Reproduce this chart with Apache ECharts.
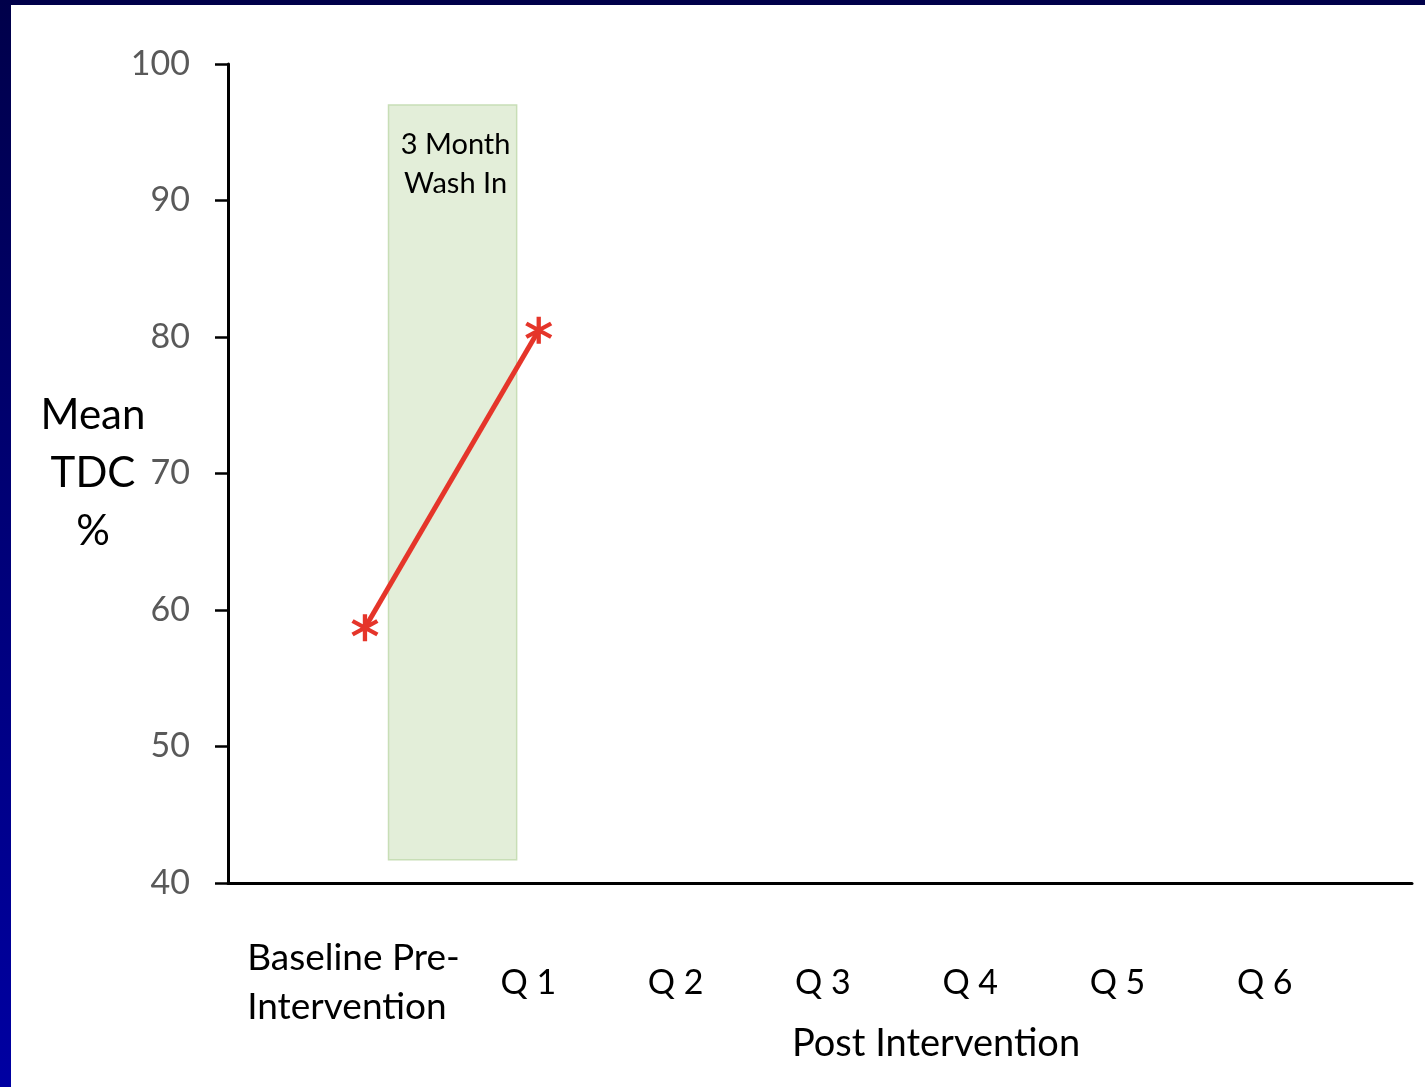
<!DOCTYPE html>
<html>
<head>
<meta charset="utf-8">
<script src="https://cdn.jsdelivr.net/npm/echarts@6/dist/echarts.min.js"></script>
<style>
  html, body { margin: 0; padding: 0; width: 1425px; height: 1087px; overflow: hidden; }
  body { background: linear-gradient(180deg, #00004a 0%, #000078 50%, #0000a2 100%); position: relative; }
  #chart { position: absolute; left: 11px; top: 5px; width: 1414px; height: 1082px; background: #fff; }
</style>
</head>
<body>
<div id="chart"></div>
<script>
// category labels and where they sit on the x scale (quarter units)
var labelNames = ['Baseline Pre-\nIntervention', 'Q 1', 'Q 2', 'Q 3', 'Q 4', 'Q 5', 'Q 6'];
var labelPos = [0.82, 2, 3, 4, 5, 6, 7];

// measured points: baseline and first quarter
var pointX = [0.89, 2.07];
var tdcValues = [58.7, 80.5];

// shaded wash-in period
var washInX = [1.05, 1.92];
var washInY = [41.7, 97];

var yTicks = [40, 50, 60, 70, 80, 90, 100];

var font = 'Lato, "Open Sans", sans-serif';

var starPath = 'path://M-1.5,-10L1.5,-10L1.5,10L-1.5,10Z' +
    'M7.91,-6.30L9.41,-3.70L-7.91,6.30L-9.41,3.70Z' +
    'M9.41,3.70L7.91,6.30L-9.41,-3.70L-7.91,-6.30Z';

var chart = echarts.init(document.getElementById('chart'));

var labelMap = {};
labelPos.forEach(function (p, i) { labelMap[p] = labelNames[i]; });

var option = {
    animation: false,
    title: [{
        text: 'Post Intervention',
        left: 776,
        top: 1015,
        textStyle: { fontFamily: font, fontSize: 38, fontWeight: 'normal', color: '#000' }
    }],
    grid: { left: 217, top: 59, right: 13, bottom: 204 },
    xAxis: {
        type: 'value',
        min: -0.04,
        max: 8,
        splitLine: { show: false },
        axisTick: { show: false },
        axisLine: { show: true, onZero: false, lineStyle: { color: '#000', width: 3 } },
        axisLabel: {
            customValues: labelPos,
            formatter: function (v) {
                var txt = labelMap[v] || '';
                if (txt.indexOf('\n') >= 0) {
                    return txt.split('\n').map(function (s) { return '{b|' + s + '}'; }).join('\n');
                }
                return txt;
            },
            margin: 100,
            verticalAlign: 'middle',
            fontFamily: font,
            fontSize: 34,
            lineHeight: 49,
            color: '#000',
            rich: {
                b: { width: 215, align: 'left', fontFamily: font, fontSize: 37, lineHeight: 49, color: '#000' }
            }
        }
    },
    yAxis: {
        type: 'value',
        min: yTicks[0],
        max: yTicks[yTicks.length - 1],
        interval: 10,
        name: 'Mean\nTDC\n%',
        nameLocation: 'middle',
        nameRotate: 0,
        nameGap: 135,
        nameMoveOverlap: false,
        nameTextStyle: { fontFamily: font, fontSize: 42, lineHeight: 58, color: '#000', align: 'center', verticalAlign: 'middle', padding: [0, 0, 6, 0] },
        splitLine: { show: false },
        axisLine: { show: true, onZero: false, lineStyle: { color: '#000', width: 3 } },
        axisTick: { show: true, length: 13, lineStyle: { color: '#000', width: 2.5 } },
        axisLabel: { margin: 38, fontFamily: font, fontSize: 34, color: '#595959' }
    },
    series: [{
        type: 'line',
        data: pointX.map(function (x, i) { return [x, tdcValues[i]]; }),
        symbol: starPath,
        symbolSize: 27,
        lineStyle: { color: '#e5352a', width: 5 },
        itemStyle: { color: '#e5352a' },
        markArea: {
            silent: true,
            itemStyle: { color: '#e3eed9', borderColor: '#c8deb6', borderWidth: 1.5 },
            label: {
                show: true,
                position: 'insideTop',
                distance: 21,
                offset: [3, 0],
                formatter: '3 Month\nWash In',
                fontFamily: font,
                fontSize: 29,
                lineHeight: 39,
                color: '#000'
            },
            data: [[{ coord: [washInX[0], washInY[1]] }, { coord: [washInX[1], washInY[0]] }]]
        },
        z: 3
    }]
};

chart.setOption(option);
</script>
</body>
</html>
